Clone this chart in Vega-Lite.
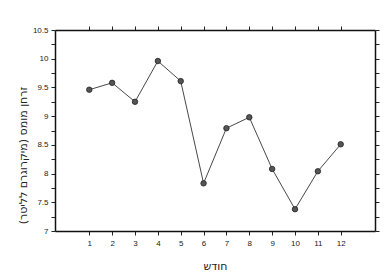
{
  "$schema": "https://vega.github.io/schema/vega-lite/v6.json",
  "width": 320,
  "height": 201,
  "autosize": "none",
  "padding": {"left": 55, "top": 30, "right": 16, "bottom": 47},
  "background": "white",
  "config": {"view": {"stroke": null}, "axis": {"grid": false, "domainColor": "#111", "domainWidth": 1.5, "tickColor": "#222", "labelFont": "Liberation Sans", "labelFontSize": 8, "labelColor": "#222", "titleFont": "DejaVu Sans", "titleFontWeight": "normal", "titleColor": "#222"}},
  "data": {"values": [
    {"month": 1, "value": 9.46},
    {"month": 2, "value": 9.58},
    {"month": 3, "value": 9.25},
    {"month": 4, "value": 9.96},
    {"month": 5, "value": 9.61},
    {"month": 6, "value": 7.83},
    {"month": 7, "value": 8.79},
    {"month": 8, "value": 8.98},
    {"month": 9, "value": 8.08},
    {"month": 10, "value": 7.38},
    {"month": 11, "value": 8.04},
    {"month": 12, "value": 8.51}
  ]},
  "layer": [
    {
      "mark": {"type": "line", "color": "#333", "strokeWidth": 0.9},
      "encoding": {
        "x": {"field": "month", "type": "quantitative", "scale": {"domain": [-0.5, 13.5], "nice": false, "zero": false},
          "axis": {"orient": "bottom", "values": [1,2,3,4,5,6,7,8,9,10,11,12], "title": "חודש", "titleFontSize": 11, "titlePadding": 13, "labelPadding": 4, "tickSize": 4}},
        "y": {"field": "value", "type": "quantitative", "scale": {"domain": [7, 10.5], "nice": false, "zero": false},
          "axis": {"orient": "left", "values": [7,7.25,7.5,7.75,8,8.25,8.5,8.75,9,9.25,9.5,9.75,10,10.25,10.5], "format": "~g", "labelExpr": "datum.value % 0.5 == 0 ? datum.label : ''", "title": "זרחן מומס (מיקרוגרם לליטר)", "titleFontSize": 11, "titleX": -27, "titleY": 125, "tickSize": 4, "labelPadding": 3}}
      }
    },
    {
      "mark": {"type": "point", "filled": true, "color": "#555", "stroke": "#222", "strokeWidth": 0.8, "size": 30, "opacity": 1},
      "encoding": {
        "x": {"field": "month", "type": "quantitative", "axis": null},
        "y": {"field": "value", "type": "quantitative", "axis": null}
      }
    },
    {
      "mark": {"type": "point", "opacity": 0},
      "encoding": {
        "x": {"field": "month", "type": "quantitative",
          "axis": {"orient": "top", "values": [1,2,3,4,5,6,7,8,9,10,11,12], "labels": false, "title": null, "tickSize": 4}},
        "y": {"field": "value", "type": "quantitative",
          "axis": {"orient": "right", "values": [7,7.25,7.5,7.75,8,8.25,8.5,8.75,9,9.25,9.5,9.75,10,10.25,10.5], "labels": false, "title": null, "tickSize": 4}}
      }
    }
  ],
  "resolve": {"axis": {"x": "independent", "y": "independent"}}
}
